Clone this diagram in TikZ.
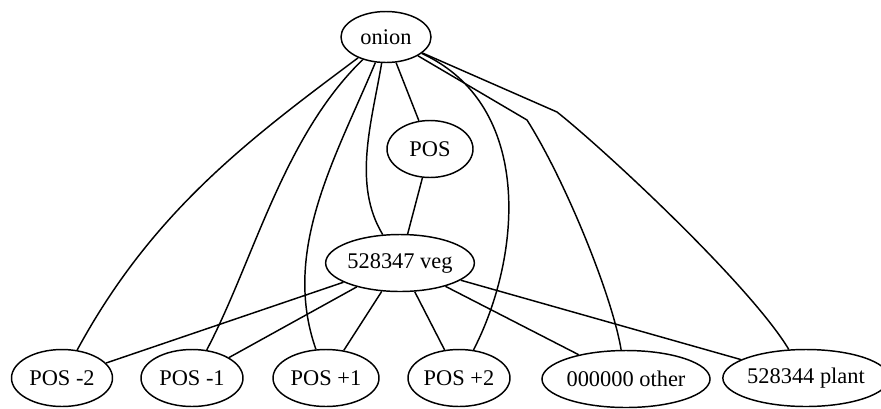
\documentclass[tikz,border=0pt]{standalone}
\usepackage{fontspec}
\setmainfont{Liberation Serif}
\usetikzlibrary{shapes.geometric}
\begin{document}
\begin{tikzpicture}[x=0.75pt,y=-0.75pt,
  ell/.style={draw, ellipse, line width=1.1pt, inner sep=0pt, minimum height=42.75pt,
    font=\fontsize{16.8}{20}\selectfont},
  edge/.style={line width=1.1pt}]
\useasboundingbox (0,0) rectangle (881,408);
\node[ell, minimum width=67.5pt, minimum height=38.25pt] (onion) at (386,37) {onion};
\node[ell, minimum width=64.5pt] (pos) at (430,149) {POS};
\node[ell, minimum width=108pt] (veg) at (400,263) {528347 veg};
\node[ell, minimum width=75.75pt] (m2) at (62,378) {POS -2};
\node[ell, minimum width=76.5pt] (m1) at (192,378) {POS -1};
\node[ell, minimum width=79.5pt] (p1) at (326,378) {POS +1};
\node[ell, minimum width=76.5pt] (p2) at (459,378) {POS +2};
\node[ell, minimum width=118.5pt] (oth) at (626,379) {000000 other};
\node[ell, minimum width=109.5pt] (pla) at (806,378) {528344 plant};
\coordinate (ko) at (527,120);
\coordinate (kp) at (557,112);
% onion edges
\draw[edge] (onion) .. controls (248,140) and (152,212) .. (m2);
\draw[edge] (onion) .. controls (283,137) and (254,260) .. (m1);
\draw[edge] (onion) .. controls (336,157) and (281,250) .. (p1);
\draw[edge] (onion) .. controls (372,121) and (352,184) .. (veg);
\draw[edge] (onion) -- (pos);
\draw[edge] (pos) -- (veg);
\draw[edge] (onion) .. controls (534,105) and (522,256) .. (p2);
\draw[edge] (onion) -- (ko) .. controls (565,180) and (612,295) .. (oth);
\draw[edge] (onion) -- (kp) .. controls (605,150) and (750,285) .. (pla);
% veg edges
\draw[edge] (veg) -- (m2);
\draw[edge] (veg) -- (m1);
\draw[edge] (veg) -- (p1);
\draw[edge] (veg) -- (p2);
\draw[edge] (veg) -- (oth);
\draw[edge] (veg) -- (pla);
\end{tikzpicture}
\end{document}
